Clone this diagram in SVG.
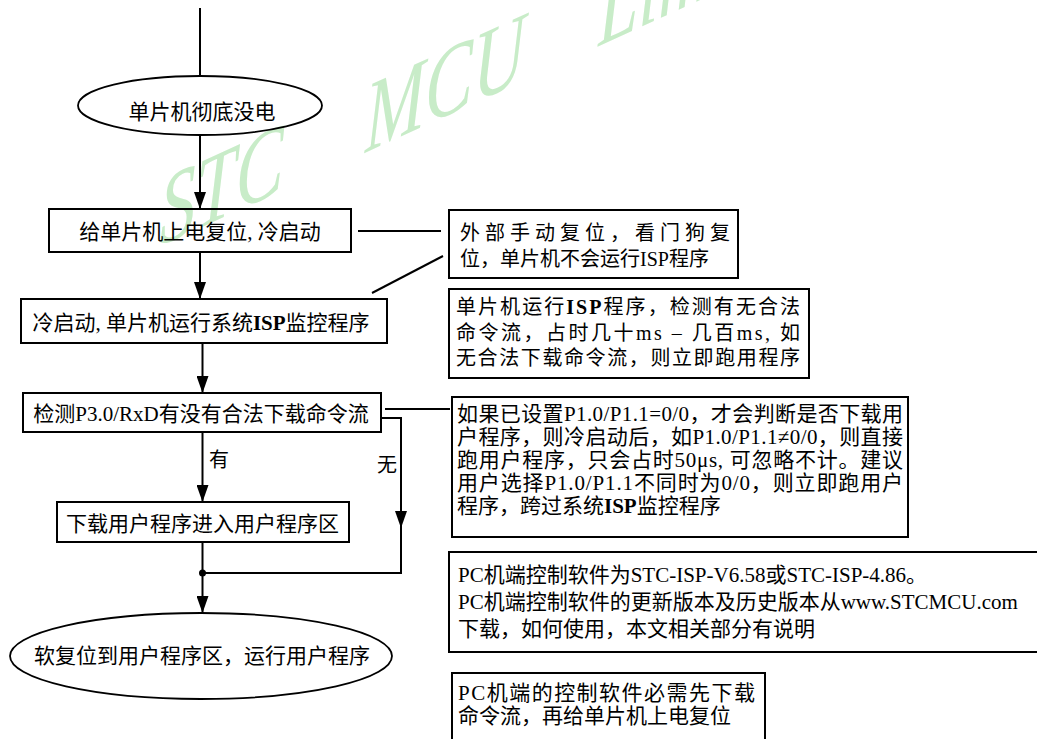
<svg xmlns="http://www.w3.org/2000/svg" width="1037" height="739" viewBox="0 0 1037 739">
<style>
text{font-family:"Liberation Serif","Noto Sans CJK SC",serif;fill:#000}
.t21{font-size:21px}
.t20{font-size:20px}
.m{text-anchor:middle}
.b{font-weight:bold}
.box{fill:none;stroke:#000;stroke-width:2}
.ell{fill:none;stroke:#000;stroke-width:1.8}
.con{fill:none;stroke:#000;stroke-width:2}
.wm{font-family:"Liberation Serif",serif;font-style:italic;font-size:100px;fill:#c8ecc8}
</style>
<defs>
<marker id="ah" markerUnits="userSpaceOnUse" markerWidth="17" markerHeight="12" refX="17" refY="6" orient="auto">
<path d="M0,0 L17,6 L0,12 z" fill="#000"/>
</marker>
</defs>
<rect width="1037" height="739" fill="#fff"/>
<text class="wm" transform="skewY(-24.5) scale(0.72,1)"><tspan x="222" y="319">STC</tspan><tspan x="507" y="319">MCU</tspan><tspan x="831" y="319">Lim</tspan></text>

<g id="connectors">
<path class="con" d="M200,8 V76"/>
<path class="con" d="M200,135 V209" marker-end="url(#ah)"/>
<path class="con" d="M200,252 V299" marker-end="url(#ah)"/>
<path class="con" d="M202.5,343 V393" marker-end="url(#ah)"/>
<path class="con" d="M202.5,432 V502" marker-end="url(#ah)"/>
<path class="con" d="M381,418 H401 V528" marker-end="url(#ah)"/>
<path class="con" d="M401,526 V573 H202.5"/>
<path class="con" d="M202.5,542 V613" marker-end="url(#ah)"/>
<circle cx="202.5" cy="573" r="3.5" fill="#000"/>
<path class="con" d="M358,231 H441"/>
<path class="con" d="M372,293 L443,256"/>
<path class="con" d="M385,409 H450"/>
<text class="t20" x="209" y="467">有</text>
<text class="t20" x="377" y="472">无</text>
</g>

<g id="n-poweroff">
<ellipse class="ell" cx="200" cy="105.5" rx="122" ry="29.5"/>
<text class="t21 m" x="202" y="119">单片机彻底没电</text>
</g>
<g id="n-poweron">
<rect class="box" x="49" y="209" width="302" height="43"/>
<text class="t21 m" x="200" y="239">给单片机上电复位, 冷启动</text>
</g>
<g id="n-coldstart">
<rect class="box" x="21" y="299" width="366" height="44"/>
<text class="t21 m" x="201" y="330">冷启动, 单片机运行系统<tspan class="b">ISP</tspan>监控程序</text>
</g>
<g id="n-detect">
<rect class="box" x="23" y="393" width="358" height="39"/>
<text class="t21 m" x="201" y="421">检测P3.0/RxD有没有合法下载命令流</text>
</g>
<g id="n-download">
<rect class="box" x="57" y="502" width="292" height="40"/>
<text class="t21 m" x="202.5" y="531">下载用户程序进入用户程序区</text>
</g>
<g id="n-softreset">
<ellipse class="ell" cx="201" cy="656" rx="191" ry="43"/>
<text class="t21 m" x="202" y="663">软复位到用户程序区，运行用户程序</text>
</g>

<g id="note-reset">
<rect class="box" x="449" y="210" width="289" height="68"/>
<text class="t20" x="460" y="240" textLength="270" lengthAdjust="spacing">外部手动复位，看门狗复</text>
<text class="t20" x="460" y="266">位，单片机不会运行ISP程序</text>
</g>
<g id="note-isp">
<rect class="box" x="449" y="289" width="360" height="89"/>
<text class="t20" x="456" y="314" textLength="344" lengthAdjust="spacing">单片机运行<tspan class="b">ISP</tspan>程序，检测有无合法</text>
<text class="t20" x="456" y="340" textLength="344" lengthAdjust="spacing">命令流，占时几十ms – 几百ms, 如</text>
<text class="t20" x="456" y="365" textLength="344" lengthAdjust="spacing">无合法下载命令流，则立即跑用程序</text>
</g>
<g id="note-p1">
<rect class="box" x="452" y="397" width="456" height="140"/>
<text class="t21" x="457" y="421" textLength="446" lengthAdjust="spacing">如果已设置P1.0/P1.1=0/0，才会判断是否下载用</text>
<text class="t21" x="457" y="444" textLength="446" lengthAdjust="spacing">户程序，则冷启动后，如P1.0/P1.1≠0/0，则直接</text>
<text class="t21" x="457" y="467" textLength="446" lengthAdjust="spacing">跑用户程序，只会占时50μs, 可忽略不计。建议</text>
<text class="t21" x="457" y="490" textLength="446" lengthAdjust="spacing">用户选择P1.0/P1.1不同时为0/0，则立即跑用户</text>
<text class="t21" x="457" y="513">程序，跨过系统<tspan class="b">ISP</tspan>监控程序</text>
</g>
<g id="note-pc">
<rect class="box" x="449" y="552" width="600" height="100"/>
<text class="t21" x="458" y="582">PC机端控制软件为STC-ISP-V6.58或STC-ISP-4.86。</text>
<text class="t21" x="458" y="609">PC机端控制软件的更新版本及历史版本从www.STCMCU.com</text>
<text class="t21" x="458" y="636">下载，如何使用，本文相关部分有说明</text>
</g>
<g id="note-order">
<rect class="box" x="452" y="673" width="313" height="80"/>
<text class="t21" x="458" y="700" textLength="297" lengthAdjust="spacing">PC机端的控制软件必需先下载</text>
<text class="t21" x="458" y="723">命令流，再给单片机上电复位</text>
</g>
</svg>
